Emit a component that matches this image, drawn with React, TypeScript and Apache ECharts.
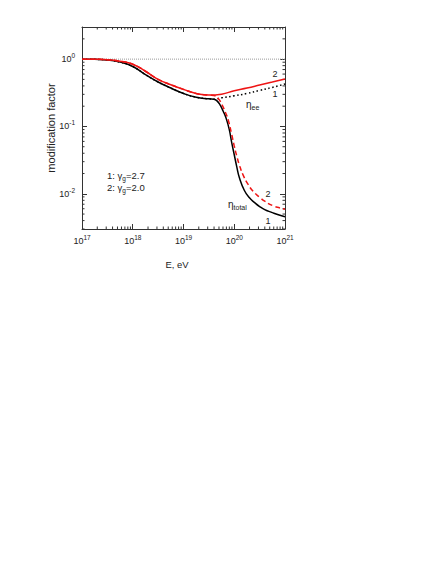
import React, { useEffect, useRef } from "react";
import * as echarts from "echarts";

// log10 of energy (eV) and modification factor values
const logE_total1 = [17.0, 17.25, 17.5, 17.75, 18.0, 18.25, 18.5, 18.75, 19.0, 19.25, 19.5, 19.6, 19.66, 19.72, 19.78, 19.84, 19.9, 19.95, 20.0, 20.05, 20.1, 20.2, 20.3, 20.4, 20.5, 20.6, 20.75, 20.9, 21.0];
const eta_total1 = [1.0, 0.993, 0.973, 0.902, 0.776, 0.589, 0.457, 0.372, 0.309, 0.272, 0.257, 0.254, 0.24, 0.209, 0.17, 0.132, 0.0912, 0.0575, 0.038, 0.0251, 0.0174, 0.0112, 0.00871, 0.00741, 0.00646, 0.00582, 0.00525, 0.00479, 0.00457];

const logE_total2 = [17.0, 17.25, 17.5, 17.75, 18.0, 18.25, 18.5, 18.75, 19.0, 19.25, 19.5, 19.6, 19.68, 19.76, 19.82, 19.88, 19.95, 20.0, 20.05, 20.1, 20.18, 20.28, 20.38, 20.5, 20.6, 20.77, 20.9, 21.0];
const eta_total2 = [1.0, 0.995, 0.982, 0.933, 0.841, 0.661, 0.501, 0.417, 0.355, 0.309, 0.292, 0.288, 0.263, 0.209, 0.166, 0.126, 0.0759, 0.0513, 0.0363, 0.0269, 0.0186, 0.0135, 0.0107, 0.00891, 0.00776, 0.00661, 0.00617, 0.00589];

const logE_ee1 = [17.0, 17.25, 17.5, 17.75, 18.0, 18.25, 18.5, 18.75, 19.0, 19.25, 19.5, 19.6, 19.75, 20.0, 20.25, 20.5, 20.75, 21.0];
const eta_ee1 = [1.0, 0.993, 0.973, 0.902, 0.776, 0.589, 0.457, 0.372, 0.309, 0.272, 0.257, 0.254, 0.266, 0.285, 0.309, 0.343, 0.38, 0.427];

const logE_ee2 = [17.0, 17.25, 17.5, 17.75, 18.0, 18.25, 18.5, 18.75, 19.0, 19.25, 19.5, 19.75, 20.0, 20.25, 20.5, 20.75, 21.0];
const eta_ee2 = [1.0, 0.995, 0.982, 0.933, 0.841, 0.661, 0.501, 0.417, 0.355, 0.309, 0.292, 0.302, 0.339, 0.372, 0.412, 0.457, 0.507];

const refLine = [1, 1];
const xMin = 1e17;
const xMax = 1e21;
const yMin = 0.003;
const yMax = 3;

const xMinorTicks: number[] = [];
for (let d = 17; d < 21; d++) for (let k = 2; k <= 9; k++) xMinorTicks.push(k * Math.pow(10, d));
const yMinorTicks: number[] = [];
for (let d = -3; d <= 0; d++) for (let k = 2; k <= 9; k++) {
  const v = k * Math.pow(10, d);
  if (v >= yMin && v < yMax) yMinorTicks.push(v);
}

const pair = (xs: number[], ys: number[]) => xs.map((x, i) => [Math.pow(10, x), ys[i]]);

const FONT = "Liberation Sans";
const AX = "#333";
const RED = "#ee1414";

const expLabel = (v: number) => {
  const l = Math.log10(v);
  const e = Math.round(l);
  if (Math.abs(l - e) > 0.01) return "";
  return `{b|10}{s|${e}}`;
};
const labelRich = {
  b: { fontSize: 9, fontFamily: FONT, color: "#222" },
  s: { fontSize: 6.5, fontFamily: FONT, color: "#222", padding: [0, 0, 7, 0] },
};

export default function App() {
  const ref = useRef<HTMLDivElement>(null);
  useEffect(() => {
    if (!ref.current) return;
    const chart = echarts.init(ref.current, undefined, { renderer: "svg" });
    const axisCommon = {
      type: "log" as const,
      logBase: 10,
      axisLine: { show: true, onZero: false, lineStyle: { color: AX, width: 1 } },
      axisTick: { show: true, inside: true, length: 5, lineStyle: { color: AX, width: 1 } },
      splitLine: { show: false },
    };
    const minorTickSeries = (axis: "x" | "y") => ({
      type: "custom",
      silent: true,
      clip: false,
      z: 1,
      data: axis === "x" ? xMinorTicks.map((v) => [v, 1]) : yMinorTicks.map((v) => [1e18, v]),
      renderItem: (_p: any, api: any) => {
        const st = { stroke: AX, lineWidth: 1 };
        if (axis === "x") {
          const v = api.value(0);
          const b = api.coord([v, yMin]);
          const t = api.coord([v, yMax]);
          return {
            type: "group",
            children: [
              { type: "line", shape: { x1: b[0], y1: b[1], x2: b[0], y2: b[1] - 2.5 }, style: st },
              { type: "line", shape: { x1: t[0], y1: t[1], x2: t[0], y2: t[1] + 2.5 }, style: st },
            ],
          };
        }
        const v = api.value(1);
        const l = api.coord([xMin, v]);
        const r = api.coord([xMax, v]);
        return {
          type: "group",
          children: [
            { type: "line", shape: { x1: l[0], y1: l[1], x2: l[0] + 2.5, y2: l[1] }, style: st },
            { type: "line", shape: { x1: r[0], y1: r[1], x2: r[0] - 2.5, y2: r[1] }, style: st },
          ],
        };
      },
    });
    const txt = (x: number, y: number, text: string, size = 8.5, align = "center", rich?: any) => ({
      type: "text",
      x,
      y,
      style: {
        text,
        fontSize: size,
        fontFamily: FONT,
        fill: "#222",
        align,
        verticalAlign: "middle",
        rich,
      },
    });
    const etaRich = {
      sub: { fontSize: 7, fontFamily: FONT, fill: "#222", padding: [6, 0, 0, 0] },
    };
    const gRich = {
      sub: { fontSize: 6.5, fontFamily: FONT, fill: "#222", padding: [6, 0, 0, 0] },
    };
    const curve = { type: "line", showSymbol: false, smooth: 0.5 };
    chart.setOption({
      animation: false,
      backgroundColor: "#fff",
      grid: { left: 82, top: 27, width: 203, height: 202 },
      xAxis: [
        {
          ...axisCommon,
          position: "bottom",
          min: xMin,
          max: xMax,
          axisLabel: { show: true, margin: 5, formatter: expLabel, rich: labelRich },
        },
        {
          ...axisCommon,
          position: "top",
          min: xMin,
          max: xMax,
          axisLabel: { show: false },
        },
      ],
      yAxis: [
        {
          ...axisCommon,
          position: "left",
          min: yMin,
          max: yMax,
          axisLabel: {
            show: true,
            margin: 7,
            showMinLabel: false,
            showMaxLabel: false,
            formatter: expLabel,
            rich: labelRich,
          },
        },
        {
          ...axisCommon,
          position: "right",
          min: yMin,
          max: yMax,
          axisLabel: { show: false },
        },
      ],
      series: [
        minorTickSeries("x"),
        minorTickSeries("y"),
        {
          type: "line",
          data: [
            [xMin, refLine[0]],
            [xMax, refLine[1]],
          ],
          showSymbol: false,
          lineStyle: { color: "#999", width: 1, type: [1, 1] },
          z: 2,
        },
        {
          ...curve,
          data: pair(logE_total1, eta_total1),
          lineStyle: { color: "#000", width: 1.5 },
          z: 3,
        },
        {
          ...curve,
          data: pair(logE_ee1, eta_ee1),
          lineStyle: { color: "#000", width: 1.5, type: [1.5, 2.5] },
          z: 3,
        },
        {
          ...curve,
          data: pair(logE_total2, eta_total2),
          lineStyle: { color: RED, width: 1.5, type: [5, 3] },
          z: 4,
        },
        {
          ...curve,
          data: pair(logE_ee2, eta_ee2),
          lineStyle: { color: RED, width: 1.5 },
          z: 4,
        },
      ],
      graphic: [
        {
          type: "text",
          x: 51,
          y: 128,
          rotation: Math.PI / 2,
          style: {
            text: "modification factor",
            fontSize: 11,
            fontFamily: FONT,
            fill: "#222",
            align: "center",
            verticalAlign: "middle",
          },
        },
        txt(177, 264, "E, eV", 9.5),
        txt(107, 175, "1: γ{sub|g}=2.7", 9.5, "left", gRich),
        txt(107, 187, "2: γ{sub|g}=2.0", 9.5, "left", gRich),
        txt(275, 74, "2", 9),
        txt(275, 94, "1", 9),
        txt(246, 104, "η{sub|ee}", 10, "left", etaRich),
        txt(268, 194, "2", 9),
        txt(268, 221, "1", 9),
        txt(228, 204, "η{sub|total}", 10, "left", etaRich),
      ],
    });
    return () => chart.dispose();
  }, []);
  return (
    <div
      ref={ref}
      style={{ position: "fixed", left: 0, top: 0, width: 436, height: 564, background: "#fff" }}
    />
  );
}
